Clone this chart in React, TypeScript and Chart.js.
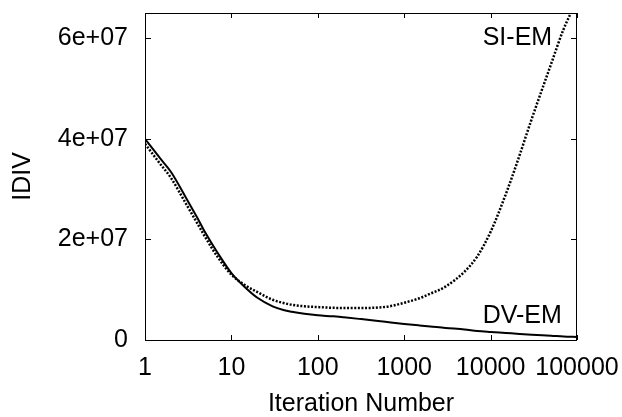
import React, { useEffect, useRef } from "react";
import { Chart, registerables } from "chart.js";

Chart.register(...registerables);

const iterations = [1, 1.5, 2, 3, 4, 5, 7, 10, 15, 20, 30, 40, 50, 70, 100, 150, 200, 300, 500, 700, 1000, 1500, 2000, 3000, 5000, 7000, 10000, 15000, 20000, 30000, 50000, 70000, 100000];
const dvEm = [4.0e7, 3.61e7, 3.34e7, 2.82e7, 2.44e7, 2.13e7, 1.72e7, 1.33e7, 1.02e7, 0.84e7, 0.67e7, 0.596e7, 0.56e7, 0.52e7, 0.49e7, 0.47e7, 0.45e7, 0.42e7, 0.38e7, 0.35e7, 0.32e7, 0.29e7, 0.27e7, 0.24e7, 0.21e7, 0.18e7, 0.16e7, 0.14e7, 0.125e7, 0.105e7, 0.085e7, 0.07e7, 0.06e7];
const siEm = [3.9e7, 3.5e7, 3.22e7, 2.7e7, 2.33e7, 2.04e7, 1.64e7, 1.3e7, 1.07e7, 0.953e7, 0.8e7, 0.736e7, 0.7e7, 0.67e7, 0.655e7, 0.64e7, 0.635e7, 0.635e7, 0.645e7, 0.675e7, 0.74e7, 0.83e7, 0.92e7, 1.06e7, 1.36e7, 1.66e7, 2.15e7, 2.9e7, 3.5e7, 4.4e7, 5.48e7, 6.18e7, 6.75e7];
const xTickValues = [1, 10, 100, 1000, 10000, 100000];
const yTickValues = [0, 2e7, 4e7, 6e7];
const curveLabels = [
  { text: "SI-EM", x: 8100, y: 6.0e7 },
  { text: "DV-EM", x: 8100, y: 0.47e7 },
];

const FONT = '"Liberation Sans", Arial, Helvetica, sans-serif';

const fmtY = (v: number) => {
  if (v === 0) return "0";
  const s = v.toExponential(0);
  return s.replace(/e([+-])(\d)$/, "e$10$2");
};

const noPad = (s: any) => {
  s.paddingTop = 0;
  s.paddingBottom = 0;
  s.paddingLeft = 0;
  s.paddingRight = 0;
};

const framePlugin = {
  id: "frameTicks",
  afterDatasetsDraw(chart: any) {
    const { ctx, chartArea: a, scales } = chart;
    ctx.save();
    ctx.strokeStyle = "#000";
    ctx.lineWidth = 1;
    ctx.strokeRect(a.left + 0.5, a.top + 0.5, a.right - a.left - 1, a.bottom - a.top);
    ctx.beginPath();
    for (const t of scales.x.ticks) {
      const px = Math.round(scales.x.getPixelForValue(t.value)) + 0.5;
      ctx.moveTo(px, a.bottom);
      ctx.lineTo(px, a.bottom - 5);
      ctx.moveTo(px, a.top);
      ctx.lineTo(px, a.top + 5);
    }
    for (const t of scales.y.ticks) {
      const py = Math.round(scales.y.getPixelForValue(t.value)) + 0.5;
      ctx.moveTo(a.left, py);
      ctx.lineTo(a.left + 6, py);
      ctx.moveTo(a.right, py);
      ctx.lineTo(a.right - 6, py);
    }
    ctx.stroke();
    ctx.fillStyle = "#000";
    ctx.font = "25px " + FONT;
    ctx.textAlign = "left";
    ctx.textBaseline = "middle";
    for (const l of curveLabels) {
      ctx.fillText(l.text, scales.x.getPixelForValue(l.x), scales.y.getPixelForValue(l.y));
    }
    ctx.restore();
  },
};

export default function App() {
  const ref = useRef<HTMLCanvasElement>(null);
  useEffect(() => {
    if (!ref.current) return;
    const chart = new Chart(ref.current, {
      type: "line",
      data: {
        datasets: [
          {
            label: "DV-EM",
            data: iterations.map((x, i) => ({ x, y: dvEm[i] })),
            borderColor: "#000",
            borderWidth: 2,
            pointRadius: 0,
            cubicInterpolationMode: "monotone",
            fill: false,
          },
          {
            label: "SI-EM",
            data: iterations.map((x, i) => ({ x, y: siEm[i] })),
            borderColor: "#000",
            borderWidth: 2.5,
            borderDash: [2, 1.6],
            borderCapStyle: "butt",
            pointRadius: 0,
            cubicInterpolationMode: "monotone",
            fill: false,
          },
        ],
      },
      options: {
        animation: false,
        responsive: false,
        devicePixelRatio: 1,
        layout: { padding: { top: 13, right: 45, left: 0, bottom: 0 } },
        plugins: { legend: { display: false }, tooltip: { enabled: false } },
        scales: {
          x: {
            type: "logarithmic",
            min: 1,
            max: 100000,
            grid: { display: false, drawTicks: false },
            border: { display: false },
            afterBuildTicks: (s: any) => {
              s.ticks = xTickValues.map((v) => ({ value: v }));
            },
            afterFit: (s: any) => {
              s.height = 77;
              noPad(s);
            },
            ticks: {
              color: "#000",
              font: { family: FONT, size: 25 },
              padding: 13,
              maxRotation: 0,
              autoSkip: false,
              callback: (v: any) => String(v),
            },
            title: {
              display: true,
              text: "Iteration Number",
              color: "#000",
              font: { family: FONT, size: 25, lineHeight: 1 },
              padding: { top: 0, bottom: 0 },
            },
          },
          y: {
            type: "linear",
            min: 0,
            max: 6.5e7,
            grid: { display: false, drawTicks: false },
            border: { display: false },
            afterBuildTicks: (s: any) => {
              s.ticks = yTickValues.map((v) => ({ value: v }));
            },
            afterFit: (s: any) => {
              s.width = 145;
              noPad(s);
            },
            ticks: {
              color: "#000",
              font: { family: FONT, size: 25 },
              padding: 17,
              autoSkip: false,
              callback: (v: any) => fmtY(Number(v)),
            },
            title: {
              display: true,
              text: "IDIV",
              color: "#000",
              font: { family: FONT, size: 25, lineHeight: 1 },
              padding: { top: 11, bottom: 0 },
            },
          },
        },
      },
      plugins: [framePlugin],
    } as any);
    return () => chart.destroy();
  }, []);
  return (
    <div style={{ position: "absolute", left: 0, top: 0, width: 622, height: 417, background: "#fff" }}>
      <canvas ref={ref} width={622} height={417} />
    </div>
  );
}
